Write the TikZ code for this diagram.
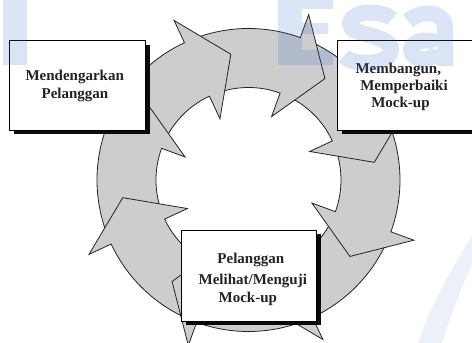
\documentclass[tikz,border=0pt]{standalone}
\usepackage{fontspec}
\setmainfont{Liberation Serif}
\usetikzlibrary{shadows}
\definecolor{ringgray}{RGB}{205,205,205}
\definecolor{inkdark}{RGB}{35,35,35}
\definecolor{washblue}{RGB}{60,110,200}
\begin{document}
\begin{tikzpicture}[x=1pt,y=1pt,
  ringline/.style={draw=inkdark, line width=0.8pt, line join=miter},
  card/.style={draw=black, line width=0.9pt, fill=white, inner sep=0pt,
    drop shadow={shadow xshift=4.5pt, shadow yshift=-4.5pt, fill=black, opacity=0.95}},
  cardtext/.style={font=\bfseries\fontsize{15}{18}\selectfont, text=inkdark, inner sep=0pt, anchor=base},
  washfill/.style={fill=washblue, fill opacity=0.18, draw=none},
  washline/.style={draw=washblue, draw opacity=0.18, line width=16pt, line cap=butt}]
\useasboundingbox (0,0) rectangle (472,343);

% cycle of eight curved arrows around the centre of the ring
\begin{scope}[shift={(248.5,163)}]
  \fill[ringgray, even odd rule] (0,0) circle[radius=151.5] (0,0) circle[radius=92.5];
  \foreach \t in {115,70,25,-20,-65,-110,-155,-200} {
    \fill[ringgray] (\t:151.5) -- (\t:176) -- ({\t-17}:127) -- (\t:67.5) -- (\t:92.5) -- cycle;
  }
  \foreach \t in {115,70,25,-20,-65,-110,-155,-200} {
    \draw[ringline] ({\t+38.4}:151.5) arc[start angle={\t+38.4}, end angle=\t, radius=151.5]
      -- (\t:176) -- ({\t-17}:127) -- (\t:67.5) -- (\t:92.5)
      arc[start angle=\t, end angle={\t+34.9}, radius=92.5];
  }
\end{scope}

% the three stages
\node[card, minimum width=136.4pt, minimum height=89.3pt] (listen) at (77.5,257.65) {};
\node[card, minimum width=142.7pt, minimum height=89.3pt] (build) at (408.65,257.65) {};
\node[card, minimum width=135pt, minimum height=91pt] (test) at (248.5,67.5) {};

\node[cardtext] (listenA) at (74.7,262.5) {Mendengarkan};
\node[cardtext] (listenB) at (75,244.3) {Pelanggan};

\node[cardtext] (buildA) at (398.3,269.5) {Membangun,};
\node[cardtext] (buildB) at (404,252.2) {Memperbaiki};
\node[cardtext] (buildC) at (400.5,235.3) {Mock-up};

\node[cardtext] (testA) at (250.8,79.5) {Pelanggan};
\node[cardtext] (testB) at (252.8,58.8) {Melihat/Menguji};
\node[cardtext] (testC) at (247.8,40.5) {Mock-up};

% faint blue lettering laid over the figure
\fill[washfill] (3,278) rectangle (27,343);
% E
\fill[washfill] (278,348) -- (333,348) -- (333,334) -- (302,334) -- (302,320) -- (328,320)
  -- (328,309) -- (302,309) -- (302,293) -- (333,293) -- (333,278) -- (278,278) -- cycle;
% s
\draw[washline] (392,324) .. controls (385,332) and (352,335) .. (350,319)
  .. controls (349,307) and (392,309) .. (391,293)
  .. controls (390,277) and (352,277) .. (344,287);
% a
\draw[washline] (408,322) .. controls (420,333) and (445,333) .. (445,315) -- (445,277)
  (437,293) .. controls (437,281) and (411,281) .. (411,293) .. controls (411,305) and (437,305) .. (437,297);
% sweep at lower right
\fill[washfill, fill opacity=0.1] (474,84) .. controls (462,56) and (450,26) .. (442,0)
  -- (418,0) .. controls (428,30) and (446,66) .. (474,110) -- cycle;
\end{tikzpicture}
\end{document}
